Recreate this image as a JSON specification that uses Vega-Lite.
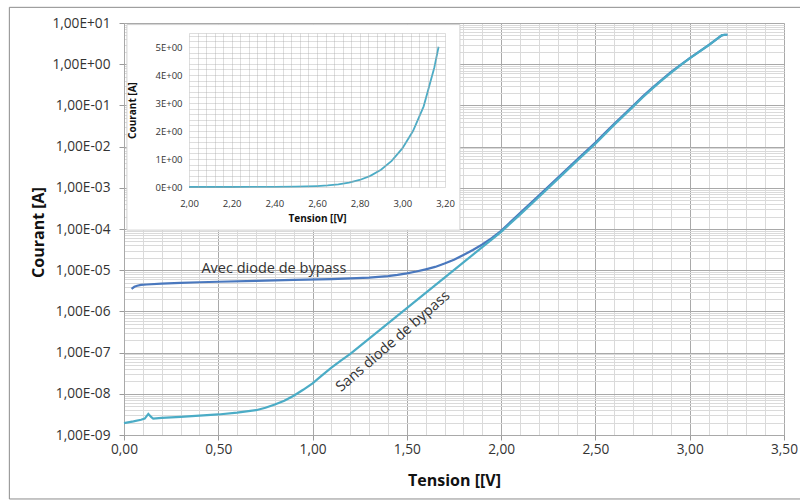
{
  "$schema": "https://vega.github.io/schema/vega-lite/v6.json",
  "width": 660,
  "height": 412,
  "autosize": {"type": "none"},
  "padding": {"left": 124, "top": 23, "right": 16, "bottom": 66},
  "background": "white",
  "config": {
    "view": {"stroke": null},
    "font": "Open Sans",
    "axis": {"labelFont": "Open Sans", "titleFont": "Open Sans", "labelColor": "#333333", "titleColor": "#111111", "labelOverlap": false, "labelFlush": false}
  },
  "datasets": {
    "iv": [
      {"serie": "Avec", "V": 0.04, "I": 3.5e-6},
      {"serie": "Avec", "V": 0.055, "I": 3.95e-6},
      {"serie": "Avec", "V": 0.07, "I": 4.2e-6},
      {"serie": "Avec", "V": 0.09, "I": 4.4e-6},
      {"serie": "Avec", "V": 0.12, "I": 4.5e-6},
      {"serie": "Avec", "V": 0.2, "I": 4.7e-6},
      {"serie": "Avec", "V": 0.3, "I": 4.9e-6},
      {"serie": "Avec", "V": 0.4, "I": 5.1e-6},
      {"serie": "Avec", "V": 0.5, "I": 5.25e-6},
      {"serie": "Avec", "V": 0.7, "I": 5.5e-6},
      {"serie": "Avec", "V": 0.9, "I": 5.8e-6},
      {"serie": "Avec", "V": 1.1, "I": 6.1e-6},
      {"serie": "Avec", "V": 1.3, "I": 6.6e-6},
      {"serie": "Avec", "V": 1.4, "I": 7.2e-6},
      {"serie": "Avec", "V": 1.45, "I": 7.7e-6},
      {"serie": "Avec", "V": 1.5, "I": 8.4e-6},
      {"serie": "Avec", "V": 1.55, "I": 9.3e-6},
      {"serie": "Avec", "V": 1.6, "I": 1.05e-5},
      {"serie": "Avec", "V": 1.65, "I": 1.2e-5},
      {"serie": "Avec", "V": 1.7, "I": 1.45e-5},
      {"serie": "Avec", "V": 1.75, "I": 1.8e-5},
      {"serie": "Avec", "V": 1.8, "I": 2.35e-5},
      {"serie": "Avec", "V": 1.85, "I": 3.1e-5},
      {"serie": "Avec", "V": 1.9, "I": 4.2e-5},
      {"serie": "Avec", "V": 1.95, "I": 6.0e-5},
      {"serie": "Avec", "V": 2.0, "I": 9.0e-5},
      {"serie": "Avec", "V": 2.1, "I": 2.45e-4},
      {"serie": "Avec", "V": 2.2, "I": 6.5e-4},
      {"serie": "Avec", "V": 2.3, "I": 1.75e-3},
      {"serie": "Avec", "V": 2.4, "I": 4.7e-3},
      {"serie": "Avec", "V": 2.5, "I": 1.25e-2},
      {"serie": "Avec", "V": 2.55, "I": 2.13e-2},
      {"serie": "Avec", "V": 2.6, "I": 3.6e-2},
      {"serie": "Avec", "V": 2.65, "I": 5.95e-2},
      {"serie": "Avec", "V": 2.7, "I": 9.8e-2},
      {"serie": "Avec", "V": 2.75, "I": 0.163},
      {"serie": "Avec", "V": 2.8, "I": 0.262},
      {"serie": "Avec", "V": 2.85, "I": 0.413},
      {"serie": "Avec", "V": 2.9, "I": 0.64},
      {"serie": "Avec", "V": 2.95, "I": 0.955},
      {"serie": "Avec", "V": 3.0, "I": 1.41},
      {"serie": "Avec", "V": 3.05, "I": 2.03},
      {"serie": "Avec", "V": 3.1, "I": 2.91},
      {"serie": "Avec", "V": 3.15, "I": 4.29},
      {"serie": "Avec", "V": 3.17, "I": 5.01},
      {"serie": "Avec", "V": 3.185, "I": 5.19},
      {"serie": "Avec", "V": 3.2, "I": 5.19},
      {"serie": "Sans", "V": 0, "I": 1.95e-9},
      {"serie": "Sans", "V": 0.05, "I": 2.15e-9},
      {"serie": "Sans", "V": 0.09, "I": 2.35e-9},
      {"serie": "Sans", "V": 0.11, "I": 2.5e-9},
      {"serie": "Sans", "V": 0.129, "I": 3.25e-9},
      {"serie": "Sans", "V": 0.145, "I": 2.7e-9},
      {"serie": "Sans", "V": 0.155, "I": 2.5e-9},
      {"serie": "Sans", "V": 0.2, "I": 2.6e-9},
      {"serie": "Sans", "V": 0.3, "I": 2.75e-9},
      {"serie": "Sans", "V": 0.4, "I": 2.95e-9},
      {"serie": "Sans", "V": 0.5, "I": 3.15e-9},
      {"serie": "Sans", "V": 0.6, "I": 3.5e-9},
      {"serie": "Sans", "V": 0.7, "I": 4.0e-9},
      {"serie": "Sans", "V": 0.75, "I": 4.6e-9},
      {"serie": "Sans", "V": 0.8, "I": 5.5e-9},
      {"serie": "Sans", "V": 0.85, "I": 6.8e-9},
      {"serie": "Sans", "V": 0.9, "I": 9.0e-9},
      {"serie": "Sans", "V": 0.95, "I": 1.25e-8},
      {"serie": "Sans", "V": 1.0, "I": 1.8e-8},
      {"serie": "Sans", "V": 1.05, "I": 2.8e-8},
      {"serie": "Sans", "V": 1.1, "I": 4.3e-8},
      {"serie": "Sans", "V": 1.15, "I": 6.4e-8},
      {"serie": "Sans", "V": 1.2, "I": 9.3e-8},
      {"serie": "Sans", "V": 1.3, "I": 2.19e-7},
      {"serie": "Sans", "V": 1.4, "I": 5.13e-7},
      {"serie": "Sans", "V": 1.5, "I": 1.2e-6},
      {"serie": "Sans", "V": 1.6, "I": 2.82e-6},
      {"serie": "Sans", "V": 1.7, "I": 6.61e-6},
      {"serie": "Sans", "V": 1.8, "I": 1.55e-5},
      {"serie": "Sans", "V": 1.9, "I": 3.63e-5},
      {"serie": "Sans", "V": 2.0, "I": 8.5e-5},
      {"serie": "Sans", "V": 2.1, "I": 2.24e-4},
      {"serie": "Sans", "V": 2.2, "I": 6.0e-4},
      {"serie": "Sans", "V": 2.3, "I": 1.62e-3},
      {"serie": "Sans", "V": 2.4, "I": 4.4e-3},
      {"serie": "Sans", "V": 2.5, "I": 1.17e-2},
      {"serie": "Sans", "V": 2.55, "I": 2.0e-2},
      {"serie": "Sans", "V": 2.6, "I": 3.39e-2},
      {"serie": "Sans", "V": 2.65, "I": 5.62e-2},
      {"serie": "Sans", "V": 2.7, "I": 9.33e-2},
      {"serie": "Sans", "V": 2.75, "I": 0.155},
      {"serie": "Sans", "V": 2.8, "I": 0.251},
      {"serie": "Sans", "V": 2.85, "I": 0.398},
      {"serie": "Sans", "V": 2.9, "I": 0.617},
      {"serie": "Sans", "V": 2.95, "I": 0.933},
      {"serie": "Sans", "V": 3.0, "I": 1.38},
      {"serie": "Sans", "V": 3.05, "I": 2.0},
      {"serie": "Sans", "V": 3.1, "I": 2.88},
      {"serie": "Sans", "V": 3.15, "I": 4.27},
      {"serie": "Sans", "V": 3.17, "I": 5.01},
      {"serie": "Sans", "V": 3.185, "I": 5.19},
      {"serie": "Sans", "V": 3.2, "I": 5.19}
    ]
  },
  "layer": [
    {
      "layer": [
        {
          "data": {"values": [{}]},
          "mark": {"type": "rect", "fill": "transparent", "stroke": "#8c8c8c", "strokeWidth": 1},
          "encoding": {
            "x": {
              "datum": -0.608, "type": "quantitative",
              "scale": {"domain": [0, 3.5], "nice": false, "zero": false},
              "axis": {
                "orient": "bottom",
                "values": [0,0.1,0.2,0.3,0.4,0.5,0.6,0.7,0.8,0.9,1,1.1,1.2,1.3,1.4,1.5,1.6,1.7,1.8,1.9,2,2.1,2.2,2.3,2.4,2.5,2.6,2.7,2.8,2.9,3,3.1,3.2,3.3,3.4,3.5],
                "grid": true, "gridColor": "#dadada", "gridWidth": 1,
                "labels": false, "ticks": false, "domain": false, "title": null, "zindex": 0
              }
            },
            "x2": {"datum": 3.8},
            "y": {
              "datum": 24, "type": "quantitative",
              "scale": {"type": "log", "domain": [1e-9, 10], "nice": false},
              "axis": {
                "orient": "left",
                "values": [2e-9,3e-9,4e-9,5e-9,6e-9,7e-9,8e-9,9e-9,2e-8,3e-8,4e-8,5e-8,6e-8,7e-8,8e-8,9e-8,2e-7,3e-7,4e-7,5e-7,6e-7,7e-7,8e-7,9e-7,2e-6,3e-6,4e-6,5e-6,6e-6,7e-6,8e-6,9e-6,2e-5,3e-5,4e-5,5e-5,6e-5,7e-5,8e-5,9e-5,2e-4,3e-4,4e-4,5e-4,6e-4,7e-4,8e-4,9e-4,2e-3,3e-3,4e-3,5e-3,6e-3,7e-3,8e-3,9e-3,2e-2,3e-2,4e-2,5e-2,6e-2,7e-2,8e-2,9e-2,2e-1,3e-1,4e-1,5e-1,6e-1,7e-1,8e-1,9e-1,2,3,4,5,6,7,8,9],
                "grid": true, "gridColor": "#dadada", "gridWidth": 1,
                "labels": false, "ticks": false, "domain": false, "title": null, "zindex": 0
              }
            },
            "y2": {"datum": 2.8e-11}
          }
        },
        {
          "data": {"name": "iv"},
          "mark": {"type": "line", "strokeWidth": 2.2},
          "encoding": {
            "x": {
              "field": "V", "type": "quantitative",
              "scale": {"domain": [0, 3.5], "nice": false, "zero": false},
              "axis": {
                "orient": "bottom",
                "values": [0, 0.5, 1, 1.5, 2, 2.5, 3, 3.5],
                "labelExpr": "replace(format(datum.value, '.2f'), '.', ',')",
                "labelFontSize": 13.7,
                "labelPadding": 9,
                "labelBaseline": "middle",
                "labelFlush": false,
                "labelOverlap": false,
                "tickSize": 5,
                "tickColor": "#9a9a9a",
                "grid": true,
                "gridColor": "#a9a9a9",
                "domainColor": "#a9a9a9",
                "title": "Tension [[V]",
                "titleFontSize": 16,
                "titleFontWeight": "bold",
                "titleY": 45,
                "titleBaseline": "middle",
                "zindex": 0
              }
            },
            "y": {
              "field": "I", "type": "quantitative",
              "scale": {"type": "log", "domain": [1e-9, 10], "nice": false},
              "axis": {
                "orient": "left",
                "values": [1e-9, 1e-8, 1e-7, 1e-6, 1e-5, 1e-4, 1e-3, 1e-2, 1e-1, 1, 10],
                "labelExpr": "'1,00E' + (datum.value >= 1 ? '+' : '-') + (abs(round(log(datum.value)/LN10)) < 10 ? '0' : '') + abs(round(log(datum.value)/LN10))",
                "labelFontSize": 13.7,
                "labelPadding": 9,
                "labelFlush": false,
                "labelOverlap": false,
                "tickSize": 5,
                "tickColor": "#9a9a9a",
                "grid": true,
                "gridColor": "#a9a9a9",
                "domainColor": "#a9a9a9",
                "title": "Courant [A]",
                "titleFontSize": 16,
                "titleFontWeight": "bold",
                "titleX": -86,
                "titleY": 209,
                "titleBaseline": "middle",
                "zindex": 0
              }
            },
            "color": {
              "field": "serie", "type": "nominal",
              "scale": {"domain": ["Avec", "Sans"], "range": ["#4a78be", "#4bacc6"]},
              "legend": null
            }
          }
        },
        {
          "data": {"values": [{"label": "Avec diode de bypass"}]},
          "mark": {"type": "text", "fontSize": 14.5, "color": "#333333", "align": "center", "baseline": "middle", "font": "Open Sans"},
          "encoding": {
            "x": {"datum": 0.795, "type": "quantitative", "axis": null},
            "y": {"datum": 1.07e-5, "type": "quantitative", "axis": null},
            "text": {"field": "label"}
          }
        },
        {
          "data": {"values": [{"label": "Sans diode de bypass"}]},
          "mark": {"type": "text", "fontSize": 14.5, "color": "#333333", "align": "center", "baseline": "middle", "angle": -41, "font": "Open Sans"},
          "encoding": {
            "x": {"datum": 1.428, "type": "quantitative", "axis": null},
            "y": {"datum": 1.84e-7, "type": "quantitative", "axis": null},
            "text": {"field": "label"}
          }
        }
      ],
      "resolve": {"axis": {"x": "independent", "y": "independent"}}
    },
    {
      "layer": [
        {
          "data": {"values": [{}]},
          "mark": {"type": "rect", "fill": "white", "stroke": "#d0d0d0", "strokeWidth": 1},
          "encoding": {
            "x": {
              "datum": 1.709, "type": "quantitative",
              "scale": {"domain": [2, 3.2], "range": [65, 321], "nice": false, "zero": false},
              "axis": {
                "orient": "top",
                "values": [2,2.04,2.08,2.12,2.16,2.2,2.24,2.28,2.32,2.36,2.4,2.44,2.48,2.52,2.56,2.6,2.64,2.68,2.72,2.76,2.8,2.84,2.88,2.92,2.96,3,3.04,3.08,3.12,3.16,3.2],
                "grid": true, "gridColor": "#a8a8a8", "gridOpacity": 0.38,
                "labels": false, "ticks": false, "domain": false, "title": null, "zindex": 1
              }
            },
            "x2": {"datum": 3.27},
            "y": {
              "datum": 5.8, "type": "quantitative",
              "scale": {"domain": [0, 5.5], "range": [164, 10], "nice": false},
              "axis": {
                "orient": "left",
                "values": [0,0.2,0.4,0.6,0.8,1,1.2,1.4,1.6,1.8,2,2.2,2.4,2.6,2.8,3,3.2,3.4,3.6,3.8,4,4.2,4.4,4.6,4.8,5,5.2,5.4,5.5],
                "grid": true, "gridColor": "#a8a8a8", "gridOpacity": 0.38,
                "labels": false, "ticks": false, "domain": false, "title": null, "zindex": 1
              }
            },
            "y2": {"datum": -1.54}
          }
        },
        {
          "data": {"name": "iv"},
          "transform": [{"filter": "datum.serie == 'Sans' && datum.V >= 2 && datum.V <= 3.17"}],
          "mark": {"type": "line", "color": "#4bacc6", "strokeWidth": 1.8},
          "encoding": {
            "x": {
              "field": "V", "type": "quantitative",
              "scale": {"domain": [2, 3.2], "range": [65, 321], "nice": false, "zero": false},
              "axis": {
                "orient": "bottom",
                "offset": -248,
                "values": [2, 2.2, 2.4, 2.6, 2.8, 3, 3.2],
                "labelExpr": "replace(format(datum.value, '.2f'), '.', ',')",
                "labelFontSize": 9.5,
                "labelPadding": 16,
                "labelBaseline": "middle",
                "labelFlush": false,
                "labelOverlap": false,
                "ticks": false,
                "domain": false,
                "grid": false,
                "title": "Tension [[V]",
                "titleFontSize": 10,
                "titleFontWeight": "bold",
                "titleY": 31,
                "titleBaseline": "middle",
                "zindex": 1
              }
            },
            "y": {
              "field": "I", "type": "quantitative",
              "scale": {"domain": [0, 5.5], "range": [164, 10], "nice": false},
              "axis": {
                "orient": "left",
                "offset": -65,
                "values": [0, 1, 2, 3, 4, 5],
                "labelExpr": "format(datum.value, 'd') + 'E+00'",
                "labelFontSize": 9.5,
                "labelPadding": 7,
                "labelFlush": false,
                "labelOverlap": false,
                "ticks": false,
                "domain": false,
                "grid": false,
                "title": "Courant [A]",
                "titleFontSize": 10,
                "titleFontWeight": "bold",
                "titleX": -57,
                "titleBaseline": "middle",
                "zindex": 1
              }
            }
          }
        }
      ],
      "resolve": {"axis": {"x": "independent", "y": "independent"}}
    }
  ],
  "resolve": {
    "scale": {"x": "independent", "y": "independent", "color": "independent"},
    "axis": {"x": "independent", "y": "independent"}
  }
}
